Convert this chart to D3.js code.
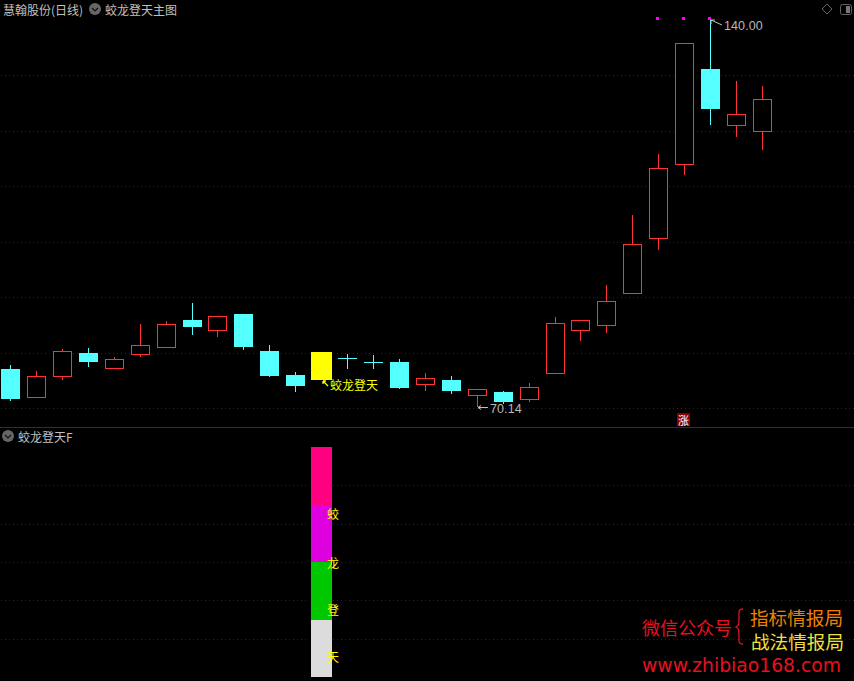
<!DOCTYPE html>
<html><head><meta charset="utf-8">
<script src="https://cdn.jsdelivr.net/npm/d3@7"></script>
<style>html,body{margin:0;padding:0;background:#000;overflow:hidden}svg{display:block}text{font-family:"Noto Sans CJK SC","DejaVu Sans",sans-serif}</style>
</head><body><div id="c"></div>
<script>
const stockTitle="慧翰股份(日线)";
const mainIndicator="蛟龙登天主图";
const subIndicator="蛟龙登天F";
const opens =[77.03,71.80,75.59,79.91,77.03,79.55,80.81,85.86,83.87,86.94,80.27,75.95,80.09,78.95,78.23,78.29,74.14,75.05,72.16,72.88,71.50,76.18,83.93,84.83,90.59,100.50,113.84,131.08,120.86,119.78];
const highs =[77.75,76.67,80.63,80.81,79.19,85.14,85.68,88.92,86.58,86.94,81.35,76.49,80.09,79.73,79.55,78.83,76.31,75.77,73.37,73.06,74.50,86.40,85.80,92.16,104.77,115.77,135.71,140.00,128.92,128.02];
const lows  =[71.44,71.80,75.05,77.57,77.03,79.19,80.81,83.33,82.79,80.63,75.77,73.06,75.05,77.21,77.21,73.60,73.06,72.70,70.14,70.90,71.08,76.18,82.13,83.51,90.59,98.47,111.98,121.17,118.83,116.49];
const closes=[71.62,75.77,80.27,78.29,78.83,81.35,85.14,84.59,86.58,80.99,75.77,73.96,75.05,78.95,78.23,73.60,75.35,73.06,73.37,71.08,73.73,85.26,85.80,89.23,99.50,113.19,135.71,123.87,122.92,125.62];
const candleKinds=["d","u","u","d","u","u","u","d","u","d","d","d","s","d","d","d","u","d","u","d","u","u","u","u","u","u","u","d","u","u"];
const gridPrices=[70,80,90,100,110,120,130];
const signalIdx=[25,26,27];
const signalPrice=140.2;
const subGrid=[1,2,3,4,5];
const stackStarts=[4.5,3,1.5,0];
const stackEnds=[6,4.5,3,1.5];
const stackColors=["#ff0080","#df00df","#00c800","#dcdcdc"];
const stackLabels=["蛟","龙","登","天"];
const stackLabelVals=[4.27,2.98,1.77,0.53];

const W=854,H=681;
const RED="#ff3333",CYAN="#54ffff",GRID="#800000",LINE="#a00000",TXT="#c0c0c0",YEL="#ffff00";
const svg=d3.select("#c").append("svg").attr("width",W).attr("height",H).style("background","#000");
const x=d3.scaleLinear().domain([0,29]).range([10.3,762.3]);
const y=d3.scaleLinear().domain([70,130]).range([408,75]);
const ySub=d3.scaleLinear().domain([0,6]).range([677,447]);
const px=v=>Math.round(v);
const dotXs=d3.range(1,W,4);
const dots=(g,ys)=>{
  const rows=g.selectAll("g").data(ys).join("g");
  rows.selectAll("rect").data(d=>dotXs.map(v=>[v,px(d)])).join("rect")
    .attr("x",d=>d[0]).attr("y",d=>d[1]).attr("width",1).attr("height",1)
    .attr("shape-rendering","crispEdges").attr("fill",GRID);
};

// grids
dots(svg.append("g"),gridPrices.map(y));
dots(svg.append("g"),subGrid.map(ySub));
svg.append("rect").attr("x",309).attr("y",440).attr("width",24).attr("height",237).attr("fill","#000");
// separator
svg.append("line").attr("x1",0).attr("x2",W).attr("y1",427.5).attr("y2",427.5).attr("stroke",LINE);

// candles
const candles=opens.map((o,i)=>({i,o,h:highs[i],l:lows[i],c:closes[i],k:candleKinds[i]}));
const gC=svg.append("g");
const col=d=>d.k==="u"?RED:CYAN;
const cx=i=>Math.floor(x(i)+0.2);
gC.selectAll("line.w").data(candles.filter(d=>d.k!=="s")).join("line").attr("class","w")
  .attr("x1",d=>cx(d.i)+.5).attr("x2",d=>cx(d.i)+.5)
  .attr("y1",d=>px(y(d.h))).attr("y2",d=>px(y(d.l))+(d.k==="u"?0:1)).attr("stroke",col);
gC.selectAll("rect.b").data(candles).join("rect").attr("class","b")
  .attr("shape-rendering","crispEdges")
  .attr("x",d=>{const c=cx(d.i);if(d.k==="s")return 311;return d.k==="u"?c-9+.5:c-9;})
  .attr("width",d=>d.k==="s"?21:(d.k==="u"?18:19))
  .attr("y",d=>{const t=px(y(Math.max(d.o,d.c)));return d.k==="u"?t+.5:t;})
  .attr("height",d=>{const t=px(y(Math.max(d.o,d.c))),b=px(y(Math.min(d.o,d.c)));return Math.max(1,b-t-(d.k==="u"?1:0));})
  .attr("fill",d=>d.k==="u"?"#000":(d.k==="s"?YEL:CYAN))
  .attr("stroke",d=>d.k==="u"?RED:"none");

// signal squares
svg.append("g").selectAll("rect").data(signalIdx).join("rect").attr("shape-rendering","crispEdges")
  .attr("x",d=>Math.floor(x(d)-2.4)).attr("y",Math.round(y(signalPrice))-1).attr("width",3).attr("height",3).attr("fill","#ff00ff");

// text helper
const T=(s,xx,yy,size,fill,anchor,fam)=>{const t=svg.append("text").attr("x",xx).attr("y",yy).attr("font-size",size).attr("fill",fill).attr("dominant-baseline","central").attr("text-anchor",anchor||"start").text(s);if(fam)t.style("font-family",fam);return t;};
T(stockTitle,3,9,12,TXT);
T(mainIndicator,105,9,12,TXT);
T(subIndicator,18,436,12,TXT);

const chevron=(cx,cy)=>{svg.append("circle").attr("cx",cx).attr("cy",cy).attr("r",6).attr("fill","#666");
  svg.append("path").attr("d",`M${cx-3} ${cy-1}L${cx} ${cy+2}L${cx+3} ${cy-1}`).attr("fill","none").attr("stroke","#111").attr("stroke-width",1.2);};
chevron(95,9);chevron(8,436);

// corner icons
svg.append("path").attr("d","M827 4L832 9L827 14L822 9Z").attr("fill","none").attr("stroke","#666");
svg.append("rect").attr("x",840.5).attr("y",4.5).attr("width",11).attr("height",10).attr("rx",2).attr("fill","none").attr("stroke","#666");
svg.append("rect").attr("x",846).attr("y",6).attr("width",4).attr("height",7).attr("fill","#777");

// annotations
const hi=d3.max(highs),lo=d3.min(lows);
T(hi.toFixed(2),724,26,12.5,"#b8b8b8","start","'Liberation Sans'").attr("letter-spacing",0.1);
T(lo.toFixed(2),490,409,12.5,"#b8b8b8","start","'Liberation Sans'").attr("letter-spacing",0.1);
svg.append("path").attr("d",`M711 20L722 25M711 20h4M711 20v4`).attr("stroke",TXT).attr("fill","none");
svg.append("path").attr("d",`M478 407.5H488M478 407.5l3-2M478 407.5l3 2`).attr("stroke",TXT).attr("fill","none");
svg.append("path").attr("d",`M323 381L328 386M323 381h3M323 381v3`).attr("stroke",YEL).attr("fill","none").attr("stroke-width",1.3);
T("蛟龙登天",330,384,12,YEL);

// 涨 badge
svg.append("rect").attr("x",677).attr("y",413).attr("width",13).attr("height",13).attr("rx",1).attr("fill","#8b0000");
T("涨",683.5,419.5,11,"#fff","middle");

// sub stack
const gS=svg.append("g");
gS.selectAll("rect").data(stackColors).join("rect").attr("shape-rendering","crispEdges")
  .attr("x",311).attr("width",21)
  .attr("y",(d,i)=>px(ySub(stackEnds[i]))).attr("height",(d,i)=>px(ySub(stackStarts[i]))-px(ySub(stackEnds[i])))
  .attr("fill",d=>d);
gS.selectAll("text").data(stackLabels).join("text").attr("x",333).attr("y",(d,i)=>ySub(stackLabelVals[i]))
  .attr("font-size",12).attr("fill",YEL).attr("text-anchor","middle").attr("dominant-baseline","central").text(d=>d);

// watermark
T("微信公众号",642,627,18,"#e81020");
svg.append("path").attr("d","M743 609C738 609 739 612 739 618C739 623 739 626 736 627C739 628 739 631 739 636C739 642 738 644 743 644").attr("fill","none").attr("stroke","#e81020").attr("stroke-width",1.3);
const wm=svg.append("text").attr("font-size",18.6).attr("dominant-baseline","central");
wm.append("tspan").attr("x",750).attr("y",616).attr("fill","#f08000").text("指标情报局");
wm.append("tspan").attr("x",751).attr("y",640).attr("fill","#f0e040").text("战法情报局");
T("www.zhibiao168.com",642,665,18.75,"#e81020","start","'DejaVu Sans'");
</script></body></html>
